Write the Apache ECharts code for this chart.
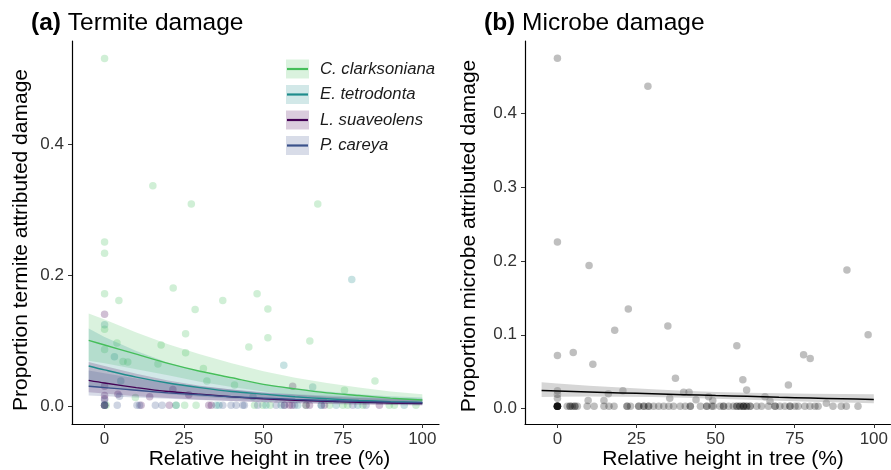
<!DOCTYPE html>
<html>
<head>
<meta charset="utf-8">
<script src="https://cdn.jsdelivr.net/npm/echarts@6/dist/echarts.min.js"></script>
<style>html,body{margin:0;padding:0;background:#fff}#c{width:891px;height:470px}</style>
</head>
<body>
<div id="c"></div>
<script>
// ---------- DATA ----------
const xTicks = [0, 25, 50, 75, 100];
const yTicksA = [0, 0.2, 0.4];
const yTicksB = [0, 0.1, 0.2, 0.3, 0.4];
const species = ['C. clarksoniana', 'E. tetrodonta', 'L. suaveolens', 'P. careya'];

// Panel (a) observations [height %, proportion]
const clarkPts = [[0,0.531],[15.2,0.337],[27.3,0.309],[67.1,0.309],[0,0.251],[0,0.234],[21.6,0.181],[0,0.172],[48,0.172],[4.5,0.162],[37.2,0.162],[28.5,0.148],[51.4,0.149],[51.4,0.105],[64.6,0.100],[45.4,0.091],[25.5,0.111],[25.5,0.082],[17.8,0.094],[85.1,0.039],[0,0.118],[0,0.087],[3.9,0.097],[5.8,0.069],[7.3,0.068],[31.1,0.058],[32.2,0.039],[16.8,0.065],[40.9,0.033],[75.5,0.025],[9.7,0.014],
  [0,0.002],[0.5,0.002],[22.5,0.002],[25.2,0.002],[28.8,0.002],[47.2,0.002],[49.8,0.002],[52.1,0.002],[63.4,0.002],[70.8,0.002],[75,0.002],[76.5,0.002],[81.3,0.002],[89.6,0.002],[91.2,0.002],[98,0.002]];
const tetroPts = [[77.8,0.194],[56.4,0.063],[0,0.125],[3.1,0.076],[65.5,0.030],[46.7,0.015],[5.1,0.039],
  [0,0.002],[22.5,0.002],[35.1,0.002],[36,0.002],[50.8,0.002],[55.6,0.002],[60.8,0.002],[68.2,0.002],[72.9,0.002],[94.3,0.002],[79.7,0.002]];
const suavePts = [[0,0.141],[59.2,0.031],[21.5,0.026],[0,0.031],[0,0.017],[0,0.012],[4.2,0.019],[14.2,0.015],[26.5,0.018],
  [0,0.002],[0,0.002],[11.5,0.002],[20.4,0.002],[32.8,0.002],[33.6,0.002],[56.6,0.002],[58.2,0.002],[59,0.002],[63.4,0.002],[64.5,0.002],[69.2,0.002],[86.5,0.002]];
const careyPts = [[0,0.010],[4.7,0.016],
  [0,0.002],[4,0.002],[10.2,0.002],[11,0.002],[16,0.002],[18.1,0.002],[37.2,0.002],[39.8,0.002],[41.4,0.002],[43.5,0.002],[44,0.002],[48.2,0.002],[54,0.002],[56.6,0.002],[59.8,0.002],[68.2,0.002],[78.1,0.002],[82.3,0.002]];

// Fitted curves and confidence bands, read at these heights
const fitX = [-5, 0, 10, 20, 30, 40, 50, 60, 70, 80, 90, 100];
const clarkFit = [0.101,0.094,0.080,0.066,0.054,0.044,0.034,0.027,0.021,0.017,0.013,0.010];
const clarkHi  = [0.142,0.133,0.113,0.095,0.080,0.066,0.054,0.044,0.036,0.029,0.023,0.019];
const clarkLo  = [0.070,0.066,0.057,0.048,0.038,0.030,0.023,0.017,0.012,0.009,0.0068,0.0050];
const tetroFit = [0.062,0.056,0.045,0.036,0.029,0.023,0.019,0.015,0.012,0.0095,0.0077,0.0062];
const tetroHi  = [0.119,0.106,0.085,0.067,0.053,0.042,0.034,0.028,0.023,0.019,0.016,0.014];
const tetroLo  = [0.031,0.029,0.024,0.019,0.015,0.012,0.0095,0.0075,0.0058,0.0045,0.0034,0.0026];
const suaveFit = [0.040,0.036,0.029,0.023,0.019,0.015,0.012,0.0098,0.0080,0.0066,0.0056,0.0048];
const suaveHi  = [0.068,0.062,0.050,0.040,0.032,0.026,0.021,0.018,0.015,0.013,0.012,0.011];
const suaveLo  = [0.022,0.020,0.016,0.013,0.0105,0.0085,0.0068,0.0052,0.0040,0.0030,0.0023,0.0018];
const careyFit = [0.031,0.029,0.025,0.021,0.018,0.015,0.013,0.011,0.0093,0.0080,0.0068,0.0058];
const careyHi  = [0.055,0.051,0.043,0.036,0.031,0.026,0.022,0.019,0.017,0.015,0.013,0.012];
const careyLo  = [0.017,0.016,0.014,0.012,0.010,0.0085,0.0072,0.0060,0.0049,0.0040,0.0033,0.0027];

// Panel (b) observations
const microbePts = [[0,0.475],[28.6,0.437],[0,0.226],[10,0.194],[91.5,0.188],[22.4,0.135],[34.9,0.112],[18.1,0.106],[98.2,0.100],[56.7,0.085],[5,0.076],[77.8,0.073],[79.9,0.068],[0,0.072],[11.2,0.060],[37.3,0.041],[58.6,0.039],[73,0.032],[59.8,0.025],[0,0.024],[0,0.0195],[0,0.014],[20.7,0.024],[16.1,0.020],[39.9,0.022],[41.6,0.022],[9.7,0.011],[14.7,0.011],[35.5,0.014],[43.8,0.012],[47.8,0.016],[49.1,0.011],[65.6,0.016],[67.2,0.010],[85,0.0073]];
const microbeZeroX = [0,0,0,0,0,0,0,0,0,3.1,4,4,4.7,5.5,5.5,6.3,9.4,11.6,14.7,16.3,17.9,22,22,23.1,25.7,25.7,27.3,27.3,28.8,28.8,30.4,32,33.6,35.2,36.7,38.8,40.4,42,42,45.2,47.2,47.2,48.8,49.3,51.4,52.5,52.5,54.1,55.6,56.7,56.7,57.7,57.7,58.8,58.8,58.8,59.8,59.8,60.9,60.9,63,64.5,66.7,68.8,68.8,70.3,71.9,73.5,73.5,75.1,76.1,78.2,79.8,81.4,82.4,87.1,89.7,91.3,95];
const microbeFit = [0.0244,0.0238,0.0225,0.0212,0.0200,0.0188,0.0176,0.0165,0.0152,0.0142,0.0132,0.0122];
const microbeHi  = [0.0357,0.034,0.031,0.0285,0.026,0.024,0.0225,0.0215,0.0207,0.0202,0.0198,0.0195];
const microbeLo  = [0.0155,0.0158,0.0162,0.0160,0.0155,0.0145,0.0132,0.0118,0.0105,0.0093,0.0082,0.0073];

// ---------- STYLE ----------
const colors = ['#45BE5A', '#1F8C8C', '#440154', '#3B528B'];
const FONT = '"Liberation Sans", Arial, Helvetica, sans-serif';
const ptsA = [clarkPts, tetroPts, suavePts, careyPts];
const fitsA = [clarkFit, tetroFit, suaveFit, careyFit];
const hiA = [clarkHi, tetroHi, suaveHi, careyHi];
const loA = [clarkLo, tetroLo, suaveLo, careyLo];
const microbeAll = microbePts.concat(microbeZeroX.map(x => [x, 0.003]));

function fitLine(ys) { return fitX.map((x, i) => [x, ys[i]]); }
function bandSeries(xi, lo, hi, color, op) {
  return {
    type: 'custom', xAxisIndex: xi, yAxisIndex: xi, silent: true, z: 3,
    data: [0],
    renderItem: function (params, api) {
      const pts = [];
      for (let i = 0; i < fitX.length; i++) pts.push(api.coord([fitX[i], hi[i]]));
      for (let i = fitX.length - 1; i >= 0; i--) pts.push(api.coord([fitX[i], lo[i]]));
      return { type: 'polygon', shape: { points: pts }, style: { fill: color, opacity: op } };
    }
  };
}

function xAxis(idx) {
  return {
    type: 'value', gridIndex: idx, min: -10.25, max: 105.25,
    axisLine: { onZero: false, lineStyle: { color: '#000', width: 1.2 } },
    axisTick: { show: true, length: 4, customValues: xTicks, lineStyle: { color: '#333' } },
    axisLabel: { customValues: xTicks, color: '#333', fontSize: 17, fontFamily: FONT, margin: 7 },
    splitLine: { show: false }
  };
}
function yAxis(idx, min, max, ticks) {
  return {
    type: 'value', gridIndex: idx, min: min, max: max,
    axisLine: { show: true, onZero: false, lineStyle: { color: '#000', width: 1.2 } },
    axisTick: { show: true, length: 4, customValues: ticks, lineStyle: { color: '#333' } },
    axisLabel: { customValues: ticks, color: '#333', fontSize: 17, fontFamily: FONT, margin: 8,
      formatter: v => v.toFixed(1) },
    splitLine: { show: false }
  };
}

const series = [];
ptsA.forEach((p, i) => series.push({
  type: 'scatter', xAxisIndex: 0, yAxisIndex: 0, data: p, symbolSize: 7.5, z: 2,
  itemStyle: { color: colors[i], opacity: 0.25 }, silent: true
}));
for (let i = 0; i < 4; i++) series.push(bandSeries(0, loA[i], hiA[i], colors[i], 0.2));
fitsA.forEach((f, i) => series.push({
  type: 'line', xAxisIndex: 0, yAxisIndex: 0, data: fitLine(f), smooth: 0.3, showSymbol: false, z: 4,
  lineStyle: { color: colors[i], width: 1.4 }, silent: true
}));
series.push({
  type: 'scatter', xAxisIndex: 1, yAxisIndex: 1, data: microbeAll, symbolSize: 7.5, z: 2,
  itemStyle: { color: '#000', opacity: 0.25 }, silent: true
});
series.push(bandSeries(1, microbeLo, microbeHi, '#999', 0.4));
series.push({
  type: 'line', xAxisIndex: 1, yAxisIndex: 1, data: fitLine(microbeFit), smooth: 0.3, showSymbol: false, z: 4,
  lineStyle: { color: '#000', width: 1.5 }, silent: true
});

// legend and axis titles as graphic
const els = [];
const rowY = [69, 94.5, 120, 145.5];
species.forEach((s, i) => {
  els.push({ type: 'rect', shape: { x: 286, y: rowY[i] - 9.5, width: 23, height: 19 },
    style: { fill: colors[i], opacity: 0.2 } });
  els.push({ type: 'line', shape: { x1: 287, y1: rowY[i], x2: 308, y2: rowY[i] },
    style: { stroke: colors[i], lineWidth: 2.2 } });
  els.push({ type: 'text', x: 320, y: rowY[i],
    style: { text: s, font: 'italic 16.7px ' + FONT, fill: '#1a1a1a', textVerticalAlign: 'middle', textAlign: 'left' } });
});
const titleFont = '21px ' + FONT;
els.push({ type: 'text', x: 21.5, y: 240, rotation: Math.PI / 2,
  style: { text: 'Proportion termite attributed damage', font: titleFont, fill: '#000', textAlign: 'center', textVerticalAlign: 'middle' } });
els.push({ type: 'text', x: 469.5, y: 236, rotation: Math.PI / 2,
  style: { text: 'Proportion microbe attributed damage', font: titleFont, fill: '#000', textAlign: 'center', textVerticalAlign: 'middle' } });
els.push({ type: 'text', x: 269.5, y: 459.5,
  style: { text: 'Relative height in tree (%)', font: titleFont, fill: '#000', textAlign: 'center', textVerticalAlign: 'middle' } });
els.push({ type: 'text', x: 723, y: 459.5,
  style: { text: 'Relative height in tree (%)', font: titleFont, fill: '#000', textAlign: 'center', textVerticalAlign: 'middle' } });

const chart = echarts.init(document.getElementById('c'), null, { renderer: 'canvas' });
chart.setOption({
  animation: false,
  backgroundColor: '#fff',
  title: [
    { text: '{b|(a)} Termite damage', left: 31, top: 11, padding: 0,
      textStyle: { fontSize: 24.5, fontWeight: 'normal', color: '#000', fontFamily: FONT,
        rich: { b: { fontWeight: 'bold', fontSize: 24.5, fontFamily: FONT, color: '#000' } } } },
    { text: '{b|(b)} Microbe damage', left: 484, top: 11, padding: 0,
      textStyle: { fontSize: 24.5, fontWeight: 'normal', color: '#000', fontFamily: FONT,
        rich: { b: { fontWeight: 'bold', fontSize: 24.5, fontFamily: FONT, color: '#000' } } } }
  ],
  grid: [
    { left: 72, top: 41, width: 367, height: 383 },
    { left: 525, top: 41, width: 367, height: 383 }
  ],
  xAxis: [xAxis(0), xAxis(1)],
  yAxis: [yAxis(0, -0.0265, 0.5576, yTicksA), yAxis(1, -0.021, 0.4985, yTicksB)],
  series: series,
  graphic: els
});
</script>
</body>
</html>
